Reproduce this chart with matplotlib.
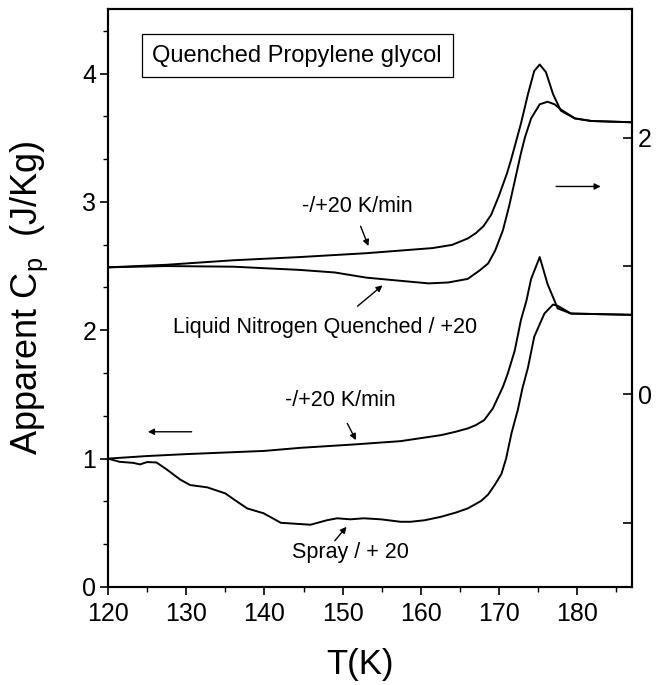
import matplotlib
matplotlib.use("Agg")
import matplotlib.pyplot as plt
from matplotlib.ticker import MultipleLocator, FixedLocator

plt.rcParams["font.family"] = ["Liberation Sans", "DejaVu Sans"]
plt.rcParams["mathtext.fontset"] = "custom"
plt.rcParams["mathtext.rm"] = "Liberation Sans"
plt.rcParams["mathtext.it"] = "Liberation Sans:italic"

# quenched samples, read against the right axis
t_rate_top = [120, 127.5, 136, 144.5, 153, 161.5, 164, 166, 167, 168, 169,
              170, 171, 171.5, 172.8, 173.7, 174.5, 175.2, 176.0, 176.9, 177.9,
              179.7, 181.8, 187]
cp_rate_top = [0.99, 1.01, 1.045, 1.07, 1.10, 1.14, 1.165, 1.215, 1.255, 1.31, 1.40,
               1.55, 1.72, 1.82, 2.11, 2.34, 2.52, 2.57, 2.51, 2.34, 2.21,
               2.15, 2.13, 2.12]

t_ln2 = [120, 127.5, 136, 144.5, 149, 153, 157.4, 161, 163.5, 166, 167.5, 168.6,
         169.5, 170.5, 171.3, 172, 172.8, 173.3, 174.1, 175.2, 176.2, 177.1, 177.9,
         179.7, 181.8, 187]
cp_ln2 = [0.99, 1.0, 0.995, 0.97, 0.95, 0.91, 0.885, 0.865, 0.872, 0.90, 0.965, 1.02,
          1.12, 1.28, 1.47, 1.66, 1.88, 2.0, 2.15, 2.26, 2.28, 2.26, 2.22,
          2.15, 2.13, 2.12]

# spray samples, read against the left axis
t_rate_bot = [120, 125, 130, 140, 144.6, 151.4, 157.4, 162.6, 164.5, 166, 167,
              168.1, 169.2, 170.5, 171.1, 172, 172.8, 173.5, 174.1, 175.2, 176.2,
              177.5, 179.2, 187]
cp_rate_bot = [1.0, 1.02, 1.035, 1.06, 1.084, 1.11, 1.136, 1.183, 1.21, 1.235, 1.26,
               1.30, 1.39, 1.56, 1.66, 1.84, 2.08, 2.23, 2.40, 2.57, 2.36,
               2.17, 2.13, 2.12]

t_spray = [120, 121.5, 123.2, 124.1, 125, 126.2, 127.5, 129.2, 130.5, 132.7, 135,
           136.1, 137.8, 139.9, 142.1, 144.6, 145.9, 148, 149.3, 151, 152.7, 154.9,
           157.4, 158.7, 160.5, 162.6, 164.5, 166, 167.7, 168.6, 169.5, 170.3,
           170.9, 171.6, 172.4, 173, 173.7, 174.5, 175.8, 176.9, 177.5, 179.2, 187]
cp_spray = [1.0, 0.975, 0.967, 0.955, 0.973, 0.97, 0.916, 0.838, 0.794, 0.776, 0.729,
            0.682, 0.612, 0.574, 0.50, 0.49, 0.485, 0.52, 0.535, 0.527, 0.535, 0.527,
            0.508, 0.508, 0.52, 0.547, 0.58, 0.612, 0.67, 0.72, 0.80, 0.88,
            1.0, 1.2, 1.38, 1.55, 1.71, 1.95, 2.13, 2.2, 2.19, 2.13, 2.12]

fig = plt.figure(figsize=(6.6, 6.85), dpi=100)
ax = fig.add_axes([0.1636, 0.1431, 0.794, 0.8433])
ax2 = ax.twinx()

lw = 1.4
ax.plot(t_rate_bot, cp_rate_bot, color="black", lw=lw)
ax.plot(t_spray, cp_spray, color="black", lw=lw)
ax2.plot(t_rate_top, cp_rate_top, color="black", lw=lw)
ax2.plot(t_ln2, cp_ln2, color="black", lw=lw)

ax.set_xlim(120, 187)
ax.set_ylim(0, 4.5)
ax2.set_ylim(-1.5, 3.0)

ax.xaxis.set_major_locator(MultipleLocator(10))
ax.xaxis.set_minor_locator(MultipleLocator(5))
ax.yaxis.set_major_locator(MultipleLocator(1))
ax.yaxis.set_minor_locator(MultipleLocator(1 / 3))
ax2.yaxis.set_major_locator(FixedLocator([0, 2]))
ax2.yaxis.set_minor_locator(FixedLocator([-1, 1]))

ax.tick_params(axis="both", which="major", direction="out", length=6, width=1.2,
               labelsize=18)
ax.tick_params(axis="both", which="minor", direction="out", length=3.5, width=1.0)
ax.tick_params(axis="y", pad=2.5)
ax.tick_params(axis="x", pad=5)
ax2.tick_params(axis="y", which="both", direction="in", length=6.5, width=1.2,
                labelsize=18, pad=4)

for a in (ax, ax2):
    for s in a.spines.values():
        s.set_linewidth(1.5)

ax.set_xlabel("T(K)", fontsize=25)
ax.set_ylabel("Apparent C$_{\\rm p}$  (J/Kg)", fontsize=26)
ax.xaxis.set_label_coords(0.48, -0.105)
ax.yaxis.set_label_coords(-0.11, 0.5)

ax.text(144.2, 4.14, "Quenched Propylene glycol", fontsize=17, ha="center",
        va="center", bbox=dict(boxstyle="square,pad=0.45", fc="white", ec="black",
                               lw=0.9))

fs = 15.5
ax.text(151.9, 2.965, "-/+20 K/min", fontsize=fs, ha="center", va="center")
ax.text(147.7, 2.023, "Liquid Nitrogen Quenched / +20", fontsize=fs, ha="center",
        va="center")
ax.text(149.7, 1.455, "-/+20 K/min", fontsize=fs, ha="center", va="center")
ax.text(151.0, 0.265, "Spray / + 20", fontsize=fs, ha="center", va="center")

arrow = dict(arrowstyle="-|>", color="black", lw=1.0, mutation_scale=9,
             shrinkA=0, shrinkB=0)
ax.annotate("", xy=(153.3, 2.656), xytext=(152.3, 2.81), arrowprops=arrow)
ax.annotate("", xy=(155.1, 2.35), xytext=(151.9, 2.187), arrowprops=arrow)
ax.annotate("", xy=(151.7, 1.144), xytext=(150.6, 1.274), arrowprops=arrow)
ax.annotate("", xy=(150.5, 0.469), xytext=(149.0, 0.36), arrowprops=arrow)
ax.annotate("", xy=(125.1, 1.209), xytext=(130.7, 1.209), arrowprops=arrow)
ax.annotate("", xy=(183.0, 3.12), xytext=(177.3, 3.12), arrowprops=arrow)

fig.savefig("out.png", dpi=100)
